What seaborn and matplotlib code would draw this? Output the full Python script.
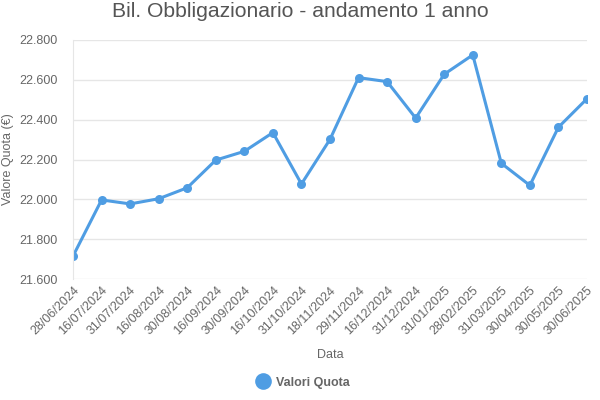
import pandas as pd
import matplotlib.pyplot as plt
import seaborn as sns
from matplotlib.lines import Line2D
from matplotlib.ticker import FuncFormatter

# Dati
date = ['28/06/2024', '16/07/2024', '31/07/2024', '16/08/2024', '30/08/2024',
        '16/09/2024', '30/09/2024', '16/10/2024', '31/10/2024', '18/11/2024',
        '29/11/2024', '16/12/2024', '31/12/2024', '31/01/2025', '28/02/2025',
        '31/03/2025', '30/04/2025', '30/05/2025', '30/06/2025']
valori = [21.715, 21.997, 21.977, 22.003, 22.058,
          22.197, 22.241, 22.335, 22.077, 22.301,
          22.611, 22.591, 22.408, 22.628, 22.725,
          22.181, 22.070, 22.362, 22.505]
y_ticks = [21.6, 21.8, 22.0, 22.2, 22.4, 22.6, 22.8]

df = pd.DataFrame({'Data': date, 'Valore': valori})

sns.set_style('white')
plt.rcParams['font.family'] = ['Liberation Sans', 'DejaVu Sans']

blu = '#4F9DE3'
grigio = '#666666'

fig = plt.figure(figsize=(6, 4), dpi=100)
ax = fig.add_axes([0.1217, 0.3025, 0.8566, 0.5975])

sns.lineplot(data=df, x='Data', y='Valore', sort=False, color=blu,
             linewidth=2.2, marker='o', markersize=6.5, markeredgewidth=0,
             ax=ax)

ax.set_xlim(0, len(date) - 1)
ax.set_ylim(21.6, 22.8)
ax.set_yticks(y_ticks)
ax.yaxis.set_major_formatter(FuncFormatter(lambda v, p: '{:.3f}'.format(v)))
ax.grid(axis='y', color='#e6e6e6', linewidth=1)
ax.set_axisbelow(True)

for s in ['top', 'right', 'bottom']:
    ax.spines[s].set_visible(False)
ax.spines['left'].set_color('#e6e6e6')

ax.tick_params(axis='y', length=10, width=1, color='#e6e6e6',
               labelsize=9, labelcolor=grigio, pad=1)
ax.tick_params(axis='x', length=0, labelsize=9, labelcolor=grigio, pad=4)
plt.setp(ax.get_xticklabels(), rotation=45, ha='right', rotation_mode='anchor')

ax.set_xlabel('Data', fontsize=9, color=grigio, labelpad=8)
ax.set_ylabel('Valore Quota (€)', fontsize=9, color=grigio)
ax.yaxis.set_label_coords(-0.115, 0.5)

fig.suptitle('Bil. Obbligazionario - andamento 1 anno', fontsize=15.2,
             color='#555555', y=0.995)

handle = Line2D([], [], linestyle='none', marker='o', markersize=12,
                markerfacecolor=blu, markeredgewidth=0)
leg = fig.legend([handle], ['Valori Quota'], loc='center',
                 bbox_to_anchor=(0.5, 0.043), frameon=False,
                 handletextpad=0.05, prop={'size': 9, 'weight': 'bold'})
for t in leg.get_texts():
    t.set_color(grigio)

fig.savefig('out.png', dpi=100)
